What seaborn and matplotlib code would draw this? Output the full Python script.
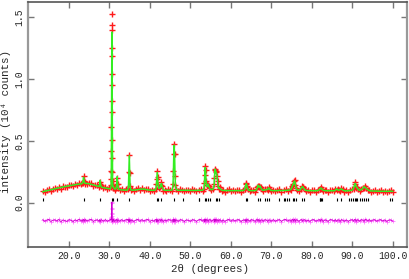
import numpy as np
import matplotlib
matplotlib.use('Agg')
import matplotlib.pyplot as plt
import seaborn as sns

# 2theta grid (degrees)
two_theta = [
    13.5, 14.0, 14.5, 15.0, 15.5, 16.0, 16.5, 17.0, 17.5, 18.0, 18.5, 19.0, 19.5, 20.0, 20.5, 21.0, 21.5, 22.0, 22.5, 23.0,
    23.3, 23.45, 23.6, 23.75, 23.9, 24.0, 24.5, 25.0, 25.5, 26.0, 26.5, 27.0, 27.4, 27.55, 27.7, 27.85, 28.0, 28.5, 29.0, 29.5, 30.0, 30.3,
    30.40, 30.43, 30.46, 30.48, 30.50, 30.52, 30.54, 30.56, 30.58, 30.60, 30.62, 30.64, 30.66, 30.68, 30.70, 30.72, 30.74, 30.77,
    30.82, 30.9, 30.98, 31.1, 31.3, 31.6, 31.75, 31.9, 32.05, 32.2, 32.5, 33.0, 33.5, 34.0, 34.5, 34.7, 34.8, 34.9, 35.0, 35.1, 35.3,
    35.5, 36.0, 36.5, 37.0, 37.5, 38.0, 38.5, 39.0, 39.5, 40.0, 40.5, 41.0, 41.4, 41.6, 41.7, 41.8, 41.9, 42.0, 42.2, 42.5, 42.7, 42.85, 43.0, 43.3, 43.7,
    44.0, 44.5, 45.0, 45.5, 45.7, 45.8, 45.9, 46.0, 46.1, 46.2, 46.3, 46.5, 47.0, 47.5, 48.0, 48.5, 49.0, 49.5, 50.0, 50.5, 51.0, 51.5, 52.0, 52.5, 53.0, 53.3,
    53.45, 53.55, 53.65, 53.75, 53.85, 54.0, 54.2, 54.4, 54.6, 54.9, 55.2, 55.6, 55.85, 55.95, 56.05, 56.15, 56.25, 56.4, 56.55, 56.7, 56.85, 57.0, 57.2, 57.4, 57.8,
    58.0, 58.5, 59.0, 59.5, 60.0, 60.5, 61.0, 61.5, 62.0, 62.5, 63.0, 63.4, 63.55, 63.7, 63.8, 63.9, 64.05, 64.3, 64.7, 65.0, 65.5, 66.0, 66.3, 66.5, 66.7, 66.85, 67.0, 67.2, 67.4, 67.7, 68.0, 68.4, 68.8, 69.1, 69.35, 69.6, 69.9,
    70.5, 71.0, 71.5, 72.0, 72.5, 73.0, 73.5, 74.0, 74.5, 74.9, 75.1, 75.3, 75.45, 75.6, 75.75, 75.9, 76.1, 76.4, 76.8, 77.2, 77.5, 77.7, 77.9, 78.2, 78.6,
    79.0, 79.5, 80.0, 80.5, 81.0, 81.5, 81.9, 82.1, 82.3, 82.5, 82.8, 83.2, 83.5, 84.0, 84.5, 85.0, 85.5, 85.8, 86.1, 86.4, 86.7, 87.0, 87.3, 87.6, 88.0,
    88.5, 89.0, 89.5, 90.0, 90.3, 90.55, 90.75, 90.95, 91.2, 91.5, 91.8, 92.2, 92.6, 92.9, 93.2, 93.5, 93.8, 94.2, 94.6, 95.0, 95.5, 96.0, 96.5, 97.0, 97.5, 98.0, 98.5, 99.0, 99.5, 100.0,
]

# calculated profile (10^4 counts)
i_calc = [
    .088, .093, .097, .100, .104, .108, .112, .116, .120, .123, .127, .130, .133, .136, .139, .142, .145, .148, .150, .152,
    .156, .170, .205, .172, .158, .156, .155, .152, .148, .144, .139, .134, .130, .140, .180, .140, .125, .121, .118, .115, .112, .115,
    .14, .18, .25, .40, .58, .78, .98, 1.16, 1.30, 1.38, 1.30, 1.14, .93, .72, .52, .36, .25, .17,
    .13, .128, .13, .118, .110, .112, .140, .210, .145, .112, .106, .103, .102, .101, .103, .13, .24, .38, .25, .13, .103,
    .101, .101, .103, .105, .108, .110, .110, .106, .103, .101, .100, .100, .105, .14, .20, .245, .20, .15, .115, .12, .145, .155, .13, .105, .100,
    .100, .100, .100, .103, .14, .25, .40, .465, .38, .22, .135, .105, .100, .100, .100, .100, .100, .100, .099, .099, .099, .099, .100, .100, .101, .108,
    .15, .23, .285, .26, .18, .13, .135, .150, .125, .108, .105, .108, .14, .21, .265, .27, .25, .24, .22, .17, .13, .115, .12, .108, .100,
    .099, .098, .098, .098, .097, .097, .097, .097, .097, .097, .098, .105, .12, .145, .153, .145, .12, .103, .098, .097, .097, .098, .103, .12, .14, .13, .125, .135, .12, .103, .100, .103, .104, .108, .12, .108, .099,
    .097, .097, .097, .100, .097, .099, .099, .100, .102, .110, .125, .145, .150, .170, .175, .150, .115, .102, .100, .108, .125, .130, .120, .105, .099,
    .097, .097, .097, .096, .096, .098, .105, .115, .118, .110, .100, .097, .096, .096, .096, .096, .096, .100, .112, .103, .100, .106, .112, .103, .096,
    .095, .096, .098, .102, .115, .145, .155, .130, .120, .105, .100, .105, .115, .130, .122, .115, .105, .097, .095, .094, .094, .093, .093, .092, .092, .092, .091, .092, .093, .091,
]

# observed minus calculated
i_resid = [
    .008, -.006, .004, .010, -.008, .002, .007, -.004, .009, -.010, .005, .000, -.007, .008, .003, -.009, .006, -.002, .010, -.005,
    .006, -.008, .010, .004, -.007, .008, -.003, .006, .009, -.008, .002, .007, -.006, .008, -.010, .004, .007, -.005, .008, -.006, .003, .009,
    .005, .008, .01, .02, .03, .04, .06, .09, .14, .15, .10, .05, .02, .01, -.01, .005, -.005, .003,
    .008, -.006, .010, .004, -.008, .006, .009, -.010, .007, .003, -.006, .008, -.004, .006, .010, -.008, .010, .007, -.009, .006, -.004,
    .006, -.008, .004, .010, -.006, .008, -.004, .006, .009, -.008, .004, -.006, .008, .009, -.010, .007, .006, -.008, .004, .008, -.006, .009, .004, -.008, .006,
    -.004, .008, .006, -.008, .009, .010, -.009, .007, .010, -.008, .006, .004, -.006, .008, .004, -.009, .006, .002, -.006, .008, .004, -.008, .006, .009, -.004, .006,
    .008, -.009, .010, .007, -.006, .009, .004, -.008, .006, .008, -.006, .004, .009, -.008, .010, -.006, .008, .009, -.008, .006, .004, -.006, .008, .004, -.008,
    .006, -.008, .004, .009, -.006, .008, -.004, .006, .008, -.009, .004, .006, -.008, .009, .006, -.008, .008, .004, -.006, .008, .004, -.008, .006, .009, -.006, .008, .004, -.008, .006, .004, -.006, .008, .004, -.008, .006, .004, -.006,
    .008, -.006, .004, .008, -.008, .006, .009, -.004, .006, -.008, .008, .009, -.006, .008, .010, -.008, .006, .004, -.008, .006, .008, -.006, .004, .008, -.006,
    .004, -.008, .006, .008, -.006, .004, .008, -.006, .009, .004, -.008, .006, .004, -.008, .008, .006, -.004, .008, -.006, .006, .004, -.008, .008, .004, -.006,
    .006, -.008, .004, .008, -.006, .009, .008, -.008, .006, .004, -.006, .008, .004, -.008, .009, .006, -.004, .008, -.006, .004, .008, -.006, .004, .008, -.004, .006, -.008, .004, .006, -.006,
]

# reflection positions (tick marks)
reflections = [
    13.7, 23.6, 27.7, 30.6, 30.9, 31.9, 34.9, 41.8, 42.0, 42.8, 46.0, 48.2, 52.0, 52.2,
    53.6, 53.9, 54.4, 54.9, 56.2, 56.5, 57.0, 63.7, 63.9, 66.7, 67.1, 68.4, 68.9, 69.4,
    72.0, 73.0, 73.4, 73.9, 74.3, 75.3, 75.7, 76.1, 77.6, 78.0, 81.9, 82.1, 82.3, 82.6,
    86.1, 87.1, 89.2, 89.6, 90.1, 90.6, 90.9, 91.2, 92.0, 92.4, 92.9, 93.3, 93.8, 99.3, 99.8,
]

diff_offset = -0.145
x_ticks = [20, 30, 40, 50, 60, 70, 80, 90, 100]
y_ticks = [0.0, 0.5, 1.0, 1.5]

sns.set_style('ticks')
plt.rcParams['font.family'] = ['Liberation Mono', 'DejaVu Sans Mono']

x = np.array(two_theta)
calc = np.array(i_calc)
obs = calc + np.array(i_resid)
diff = obs - calc + diff_offset

fig = plt.figure(figsize=(4.09, 2.79), dpi=100)
ax = fig.add_axes([0.069, 0.116, 0.926, 0.878])

sns.scatterplot(x=x, y=obs, marker='+', color='#ff1a1a', s=16, linewidth=1.0, ax=ax, zorder=2)
sns.lineplot(x=x, y=calc, color='#33ee22', linewidth=1.1, estimator=None, sort=False, ax=ax, zorder=3)
sns.scatterplot(x=x, y=diff, marker='+', color='#ff66ff', s=5, linewidth=0.5, ax=ax, zorder=1)
sns.lineplot(x=x, y=diff, color='#cc00cc', linewidth=0.6, estimator=None, sort=False, ax=ax, zorder=2)
ax.vlines(reflections, 0.015, 0.038, color='black', linewidth=0.8)

ax.set_xlim(9.93, 103.5)
ax.set_ylim(-0.356, 1.626)
ax.set_xticks(x_ticks)
ax.set_xticklabels([f'{t:.1f}' for t in x_ticks])
ax.set_yticks(y_ticks)
ax.set_yticklabels([f'{t:.1f}' for t in y_ticks], rotation=90, va='center')

ax.tick_params(axis='both', direction='in', length=4.3, width=1.0, color='#777777',
               labelsize=7, pad=3, top=True, right=True)
for side in ['left', 'right']:
    ax.spines[side].set_color('#999999')
    ax.spines[side].set_linewidth(1.6)
for side in ['top', 'bottom']:
    ax.spines[side].set_color('#555555')
    ax.spines[side].set_linewidth(1.2)

ax.set_xlabel('2θ (degrees)', fontsize=7.8)
ax.set_ylabel('intensity (10⁴ counts)', fontsize=7.8)
ax.xaxis.set_label_coords(0.481, -0.07)
ax.yaxis.set_label_coords(-0.045, 0.51)

fig.savefig('out.png', dpi=100)
